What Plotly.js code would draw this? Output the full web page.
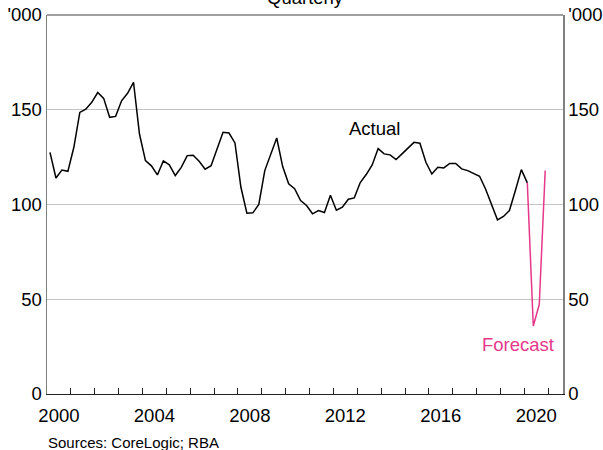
<!DOCTYPE html>
<html>
<head>
<meta charset="utf-8">
<script src="https://cdn.plot.ly/plotly-3.0.1.min.js"></script>
<style>html,body{margin:0;padding:0;background:#fff;}#chart{width:603px;height:450px;}</style>
</head>
<body>
<div id="chart"></div>
<script>
// Quarterly values ('000), starting 2000 Q1
var startYear = 2000;
var actualValues = [
  127.5, 114.0, 118.2, 117.5,
  130.2, 148.6, 150.3, 153.9,
  159.1, 156.0, 146.0, 146.5,
  154.7, 158.7, 164.5, 137.2,
  123.2, 120.4, 115.6, 123.0,
  120.9, 115.3, 119.6, 125.8,
  126.0, 122.8, 118.6, 120.5,
  129.3, 138.1, 137.7, 132.5,
  109.1, 95.4, 95.6, 100.0,
  117.9, 126.7, 135.1, 120.0,
  110.9, 108.3, 102.1, 99.5,
  95.1, 96.8, 95.8, 104.9,
  97.0, 98.6, 102.8, 103.5,
  111.6, 115.8, 120.9, 129.5,
  126.7, 126.2, 123.7, 126.7,
  129.8, 132.8, 132.3, 122.3,
  116.1, 119.6, 119.3, 121.7,
  121.7, 118.8, 117.9, 116.5,
  114.9, 108.2, 100.4, 91.9,
  93.7, 96.8, 107.4, 118.4,
  111.4
];
// Forecast: 2020 Q1 (joins actual) to 2020 Q4
var forecastStartIndex = 80;
var forecastValues = [111.4, 35.9, 47.2, 117.9];
var xTickYears = [2000, 2004, 2008, 2012, 2016, 2020];
var yearTickMarks = [2001, 2002, 2003, 2004, 2005, 2006, 2007, 2008, 2009, 2010,
                     2011, 2012, 2013, 2014, 2015, 2016, 2017, 2018, 2019, 2020, 2021];
var yTickValues = [0, 50, 100, 150, 200];
var yTickLabels = ['0', '50', '100', '150', "'000"];

function quarterX(i) { return startYear + Math.floor(i / 4) + ((i % 4) + 0.5) / 4; }
var actualX = actualValues.map(function (v, i) { return quarterX(i); });
var forecastX = forecastValues.map(function (v, i) { return quarterX(forecastStartIndex + i); });

var FONT = 'Arial, "Liberation Sans", sans-serif';
var PINK = '#E6388A';
var XRANGE = [2000, 2021.62];

var traces = [
  {x: actualX, y: actualValues, type: 'scatter', mode: 'lines', line: {color: '#000000', width: 1.5}, hoverinfo: 'skip', xaxis: 'x', yaxis: 'y'},
  {x: forecastX, y: forecastValues, type: 'scatter', mode: 'lines', line: {color: PINK, width: 1.5}, hoverinfo: 'skip', xaxis: 'x2', yaxis: 'y2'}
];

var layout = {
  width: 603, height: 450,
  margin: {l: 47, r: 40, t: 15, b: 56, pad: 0},
  paper_bgcolor: '#ffffff', plot_bgcolor: '#ffffff',
  showlegend: false,
  font: {family: FONT, size: 18.5, color: '#000'},
  xaxis: {
    range: XRANGE, showgrid: false, zeroline: false,
    showline: true, linecolor: '#222222', linewidth: 1.3,
    tickmode: 'array', tickvals: xTickYears.map(function (y) { return y + 0.5; }),
    ticktext: xTickYears.map(String), ticks: '', ticklabelstandoff: 4,
    tickfont: {family: FONT, size: 18.5, color: '#000'}
  },
  xaxis2: {
    range: XRANGE, overlaying: 'x', side: 'bottom', matches: 'x', anchor: 'y2',
    showgrid: false, zeroline: false, showline: false,
    tickmode: 'array', tickvals: yearTickMarks, ticks: 'inside', ticklen: 6,
    tickcolor: '#222222', tickwidth: 1, showticklabels: false
  },
  yaxis: {
    range: [0, 200], tickmode: 'array', tickvals: yTickValues, ticktext: yTickLabels,
    showgrid: true, gridcolor: '#C4C4C4', gridwidth: 1, zeroline: false,
    showline: true, linecolor: '#808080', linewidth: 1.5, ticks: '',
    tickfont: {family: FONT, size: 18.5, color: '#000'}
  },
  yaxis2: {
    range: [0, 200], overlaying: 'y', side: 'right', matches: 'y', anchor: 'x2',
    tickmode: 'array', tickvals: yTickValues, ticktext: yTickLabels,
    showgrid: false, zeroline: false, showline: true, linecolor: '#808080', linewidth: 1.5, ticks: '',
    tickfont: {family: FONT, size: 18.5, color: '#000'}
  },
  shapes: [
    {type: 'line', xref: 'paper', yref: 'paper', x0: 0, x1: 1, y0: 1, y1: 1, line: {color: '#808080', width: 1.5}}
  ],
  annotations: [
    {text: 'Quarterly', xref: 'paper', yref: 'paper', x: 0.5, y: 1.045, xanchor: 'center', yanchor: 'middle', showarrow: false, font: {family: FONT, size: 18.5, color: '#000'}},
    {text: 'Actual', xref: 'x', yref: 'y', x: 2013.74, y: 140, xanchor: 'center', yanchor: 'middle', showarrow: false, font: {family: FONT, size: 18.5, color: '#000'}},
    {text: 'Forecast', xref: 'x', yref: 'y', x: 2019.73, y: 26.3, xanchor: 'center', yanchor: 'middle', showarrow: false, font: {family: FONT, size: 18.5, color: PINK}},
    {text: 'Sources: CoreLogic; RBA', xref: 'paper', yref: 'paper', x: -0.002, y: 0, xanchor: 'left', yanchor: 'top', yshift: -38, showarrow: false, font: {family: FONT, size: 15, color: '#000'}}
  ]
};

Plotly.newPlot('chart', traces, layout, {displayModeBar: false, staticPlot: true});
</script>
</body>
</html>
